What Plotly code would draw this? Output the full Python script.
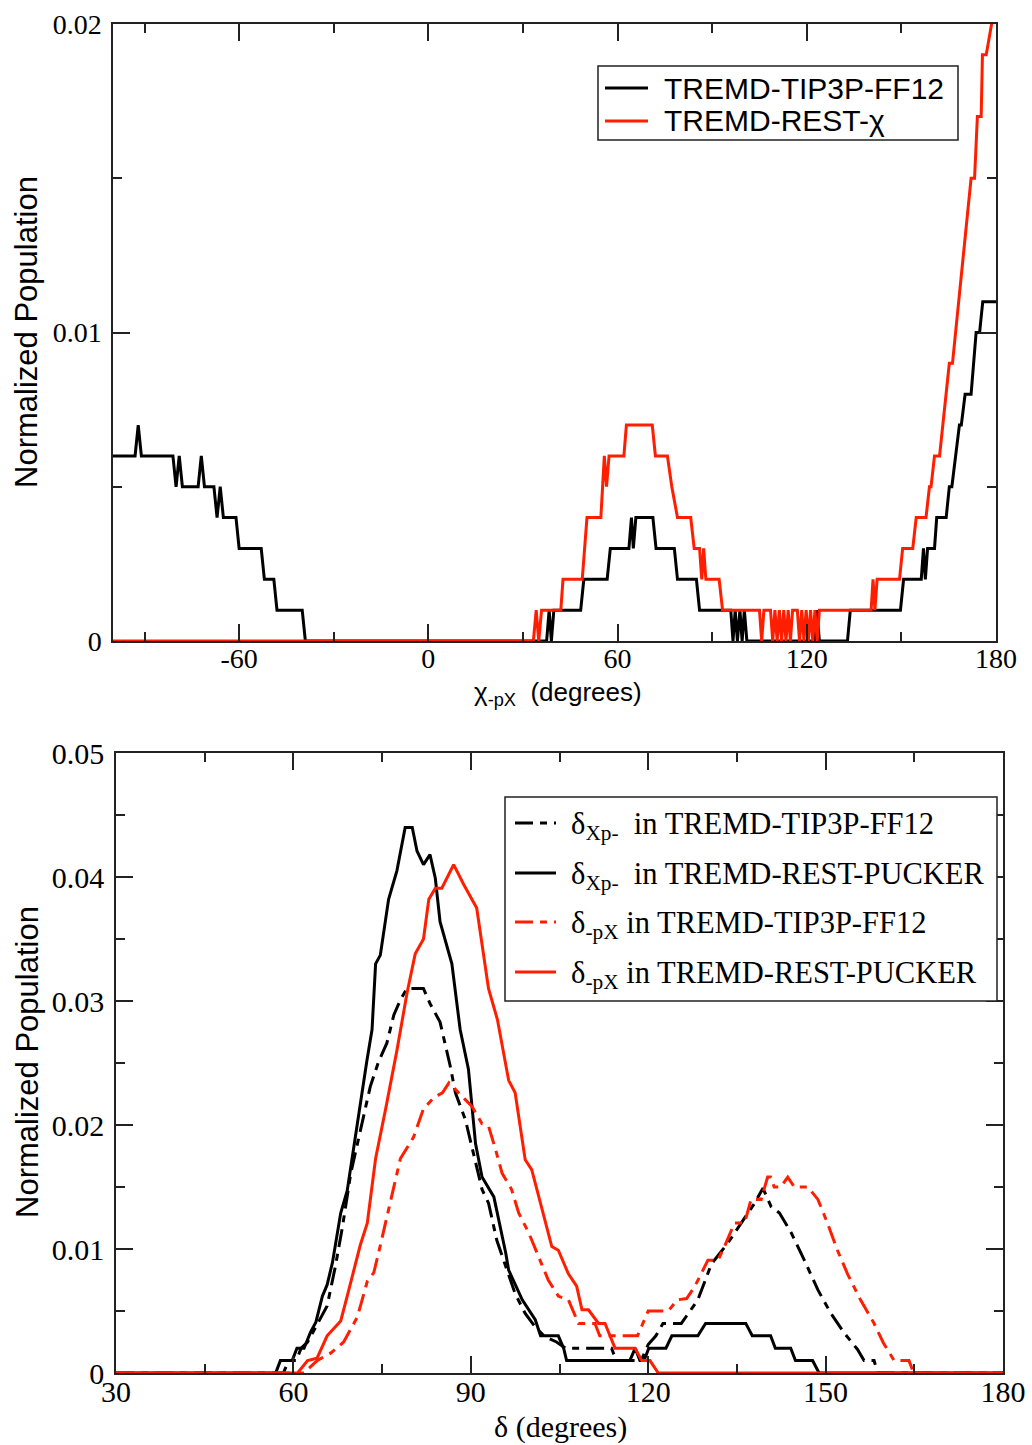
import plotly.graph_objects as go

# ---------------- Top panel data (chi -pX) ----------------
chi_tip3p_x = [-100, -93, -92, -91, -81, -80, -79, -78, -73, -72, -71, -68, -67, -66, -65, -61, -60,
               -53, -52, -49, -48, -40, -39, 37.5, 38.3, 39, 39.8, 48.3, 49.3, 56.7, 57.7, 63.6, 64.4,
               65, 65.8, 71.2, 72.2, 78, 79, 85, 86, 95.9, 96.6, 97.3, 98, 98.8, 99.5, 100.2, 101,
               122.5, 123.2, 124, 132.9, 133.8, 149.7, 150.7, 156.3, 157, 157.6, 158.3, 160.5, 161.2,
               164.2, 165.2, 166, 168.4, 169, 170.2, 172.1, 173.7, 174.8, 175.8, 180]
chi_tip3p_y = [0.006, 0.006, 0.007, 0.006, 0.006, 0.005, 0.006, 0.005, 0.005, 0.006, 0.005, 0.005, 0.004,
               0.005, 0.004, 0.004, 0.003, 0.003, 0.002, 0.002, 0.001, 0.001, 0.0, 0.0, 0.001, 0.0,
               0.001, 0.001, 0.002, 0.002, 0.003, 0.003, 0.004, 0.003, 0.004, 0.004, 0.003, 0.003,
               0.002, 0.002, 0.001, 0.001, 0.0, 0.001, 0.0, 0.001, 0.0, 0.001, 0.0, 0.0, 0.001, 0.0,
               0.0, 0.001, 0.001, 0.002, 0.002, 0.003, 0.002, 0.003, 0.003, 0.004, 0.004, 0.005,
               0.005, 0.007, 0.007, 0.008, 0.008, 0.010, 0.010, 0.011, 0.011]

chi_rest_x = [-100, 33.3, 34.2, 35, 35.9, 42, 42.7, 48.8, 50.3, 54.7, 55.8, 56.5, 57.3, 62, 62.8, 71, 72,
              75.8, 77.2, 79, 83.2, 84.3, 86, 86.7, 87.3, 88, 92.2, 93.3, 105, 105.7, 106.4, 108.5,
              109.2, 109.9, 110.6, 111.3, 112, 112.7, 113.4, 114.1, 114.8, 115.5, 117, 117.7, 118.4,
              119.1, 119.8, 120.5, 121.2, 121.9, 122.6, 123.3, 124, 140.4, 141, 141.6, 142.3, 149.4,
              150.4, 153.6, 154.7, 157.8, 158.9, 159.4, 160.5, 162.1, 165.2, 166.2, 172.1, 173.2,
              174.1, 175.3, 175.7, 176.9, 178.6, 180]
chi_rest_y = [0.0, 0.0, 0.001, 0.0, 0.001, 0.001, 0.002, 0.002, 0.004, 0.004, 0.006, 0.005, 0.006, 0.006,
              0.007, 0.007, 0.006, 0.006, 0.005, 0.004, 0.004, 0.003, 0.003, 0.002, 0.003, 0.002,
              0.002, 0.001, 0.001, 0.0, 0.001, 0.001, 0.0, 0.001, 0.0, 0.001, 0.0, 0.001, 0.0, 0.001,
              0.0, 0.001, 0.001, 0.0, 0.001, 0.0, 0.001, 0.0, 0.001, 0.0, 0.001, 0.0, 0.001, 0.001,
              0.002, 0.001, 0.002, 0.002, 0.003, 0.003, 0.004, 0.004, 0.005, 0.005, 0.006, 0.006,
              0.009, 0.009, 0.015, 0.015, 0.017, 0.017, 0.019, 0.019, 0.020, 0.0205]

# ---------------- Bottom panel data (delta) ----------------
d_xp_tip3p_x = [30, 58.3, 59.2, 60.5, 61.3, 62.4, 64.0, 65.7, 67.1, 68.3, 69.7, 71.3, 73.0, 74.4, 75.8,
                77.0, 78.1, 79.2, 82.0, 83.1, 84.8, 86.5, 87.4, 89.1, 90.8, 91.9, 93.0, 94.4, 95.9,
                97.5, 99.2, 100.9, 102.6, 104.5, 106, 113.8, 114.6, 118.8, 120, 121.3, 122.5, 125.6,
                128.4, 130.7, 133.5, 135.7, 138, 139.4, 140.8, 142.2, 144.2, 146.4, 148.7, 150.9,
                153.2, 155.4, 156.5, 158.2, 158.8, 180]
d_xp_tip3p_y = [0.0, 0.0, 0.001, 0.001, 0.002, 0.0025, 0.0039, 0.0054, 0.0086, 0.0118, 0.0161, 0.0196,
                0.0231, 0.0251, 0.0266, 0.0289, 0.0301, 0.031, 0.031, 0.0298, 0.0283, 0.0248, 0.0226,
                0.0204, 0.0169, 0.0148, 0.0137, 0.0107, 0.0086, 0.0064, 0.0048, 0.0037, 0.0029,
                0.0025, 0.002, 0.002, 0.001, 0.001, 0.0023, 0.003, 0.004, 0.004, 0.0059, 0.0088,
                0.0105, 0.0121, 0.0137, 0.0149, 0.0134, 0.0129, 0.0113, 0.0091, 0.0067, 0.0048,
                0.0032, 0.0019, 0.001, 0.001, 0.0, 0.0]

d_xp_rest_x = [30, 57.0, 57.8, 59.8, 60.6, 61.8, 62.9, 63.8, 64.9, 65.7, 66.6, 68.0, 69.1, 70.2, 71.3,
               72.4, 73.3, 73.9, 74.7, 75.6, 76.1, 77.5, 78.9, 80.1, 80.9, 82.0, 83.1, 84.0, 84.8,
               86.8, 88.2, 89.6, 90.8, 91.9, 93.9, 95.9, 96.4, 98.7, 100.9, 101.8, 104.8, 105.7, 106.2,
               116.9, 117.8, 118.6, 119.3, 120.1, 123, 124, 128.4, 129.7, 136.5, 137.6, 140.7, 141.5,
               144.1, 144.9, 147.8, 148.9, 180]
d_xp_rest_y = [0.0, 0.0, 0.001, 0.001, 0.002, 0.002, 0.0033, 0.0041, 0.0062, 0.0071, 0.0089, 0.0129,
               0.0147, 0.0182, 0.0219, 0.0251, 0.0277, 0.033, 0.0337, 0.0364, 0.0382, 0.0405, 0.044,
               0.044, 0.0421, 0.041, 0.0418, 0.0399, 0.0364, 0.033, 0.0277, 0.0245, 0.0185, 0.0158,
               0.0142, 0.0097, 0.0083, 0.0059, 0.0043, 0.003, 0.003, 0.002, 0.001, 0.001, 0.002,
               0.001, 0.001, 0.002, 0.002, 0.003, 0.003, 0.004, 0.004, 0.003, 0.003, 0.002, 0.002,
               0.001, 0.001, 0.0, 0.0]

d_px_tip3p_x = [30, 61.8, 64.0, 66.3, 68.5, 70.8, 72.5, 73.6, 74.7, 76.4, 78.1, 80.3, 82.0, 83.7, 85.2,
                86.3, 88.5, 90.2, 91.9, 93.0, 94.2, 95.3, 96.9, 98.1, 99.8, 101.5, 103.1, 104.8, 106.5,
                108.2, 111.0, 111.8, 117.2, 118.2, 120, 123.4, 124.9, 126.5, 127.9, 130.1, 131.8, 132.9,
                134.6, 136.3, 137.4, 139.1, 140.2, 140.7, 141.3, 142.4, 143.6, 144.7, 147.0, 148.7,
                150.3, 152.0, 153.7, 155.9, 158.2, 159.8, 161.6, 164.1, 164.9, 180]
d_px_tip3p_y = [0.0, 0.0, 0.001, 0.0016, 0.0025, 0.0045, 0.0074, 0.0081, 0.0103, 0.0138, 0.0173, 0.019,
                0.0213, 0.0222, 0.0226, 0.0234, 0.0223, 0.0215, 0.0201, 0.0199, 0.018, 0.0161, 0.0148,
                0.0129, 0.0113, 0.0094, 0.0075, 0.0062, 0.0059, 0.004, 0.004, 0.003, 0.003, 0.003,
                0.005, 0.005, 0.0059, 0.006, 0.007, 0.0091, 0.0091, 0.0102, 0.0121, 0.0121, 0.014,
                0.014, 0.0158, 0.0158, 0.015, 0.015, 0.0158, 0.015, 0.015, 0.014, 0.0121, 0.0099,
                0.008, 0.0059, 0.004, 0.0024, 0.001, 0.001, 0.0, 0.0]

d_px_rest_x = [30, 60.7, 62.4, 64.0, 65.7, 68.0, 69.1, 71.3, 72.5, 73.9, 75.6, 77.5, 79.2, 80.6, 82.0,
               82.9, 84.0, 85.1, 87.1, 88.8, 91.0, 93.0, 94.5, 96.4, 97.5, 99.2, 100.3, 102.0, 103.7,
               104.8, 106.5, 107.9, 108.8, 109.9, 111.6, 112.7, 114.4, 117.8, 118.9, 120.3, 121.7, 180]
d_px_rest_y = [0.0, 0.0, 0.001, 0.0012, 0.003, 0.0042, 0.0062, 0.0103, 0.0121, 0.0173, 0.0213, 0.026,
               0.0306, 0.0338, 0.035, 0.0382, 0.0391, 0.0391, 0.041, 0.0394, 0.0375, 0.031, 0.0285,
               0.0236, 0.0226, 0.0172, 0.0164, 0.0134, 0.0102, 0.0099, 0.008, 0.007, 0.0051, 0.0051,
               0.004, 0.004, 0.002, 0.002, 0.001, 0.001, 0.0, 0.0]

# ---------------- Axis tick lists ----------------
top_xticks = [-60, 0, 60, 120, 180]
top_xtext = ["-60", "0", "60", "120", "180"]
top_yticks = [0, 0.01, 0.02]
top_ytext = ["0", "0.01", "0.02"]
bot_xticks = [30, 60, 90, 120, 150, 180]
bot_xtext = ["30", "60", "90", "120", "150", "180"]
bot_yticks = [0, 0.01, 0.02, 0.03, 0.04, 0.05]
bot_ytext = ["0", "0.01", "0.02", "0.03", "0.04", "0.05"]

top_names = ["TREMD-TIP3P-FF12", "TREMD-REST-χ"]
bot_names = ["δ<sub>Xp-</sub>  in TREMD-TIP3P-FF12", "δ<sub>Xp-</sub>  in TREMD-REST-PUCKER",
             "δ<sub>-pX</sub> in TREMD-TIP3P-FF12", "δ<sub>-pX</sub> in TREMD-REST-PUCKER"]

RED = "#ff1e00"
BLACK = "#000000"
SANS = "Liberation Sans, Arial, sans-serif"
SERIF = "Liberation Serif, Times New Roman, serif"
DASH = "18px,7px,7px,7px"

W, H = 1032, 1445
fig = go.Figure()

top_series = [(chi_tip3p_x, chi_tip3p_y, BLACK, "solid"), (chi_rest_x, chi_rest_y, RED, "solid")]
bot_series = [(d_xp_tip3p_x, d_xp_tip3p_y, BLACK, DASH), (d_xp_rest_x, d_xp_rest_y, BLACK, "solid"),
              (d_px_tip3p_x, d_px_tip3p_y, RED, DASH), (d_px_rest_x, d_px_rest_y, RED, "solid")]

for (xs, ys, col, dash), name in zip(top_series, top_names):
    fig.add_trace(go.Scatter(x=xs, y=ys, mode="lines", name=name, showlegend=False,
                             line=dict(color=col, width=3, dash=dash), xaxis="x", yaxis="y"))
for (xs, ys, col, dash), name in zip(bot_series, bot_names):
    fig.add_trace(go.Scatter(x=xs, y=ys, mode="lines", name=name, showlegend=False,
                             line=dict(color=col, width=3, dash=dash), xaxis="x2", yaxis="y2"))


def px_x(p):
    return p / W


def px_y(p):
    return 1 - p / H


axis_common = dict(showline=True, linecolor="#222", linewidth=1.5, mirror="allticks",
                   ticks="inside", tickcolor="#222", tickwidth=1.5, ticklen=17,
                   showgrid=False, zeroline=False, automargin=False)
minor_common = dict(ticks="inside", ticklen=9, tickcolor="#222", tickwidth=1.5, tick0=0)

fig.update_layout(
    template="none",
    width=W, height=H, margin=dict(l=0, r=0, t=0, b=0, autoexpand=False),
    paper_bgcolor="white", plot_bgcolor="white", showlegend=False,
    xaxis=dict(domain=[px_x(113), px_x(996)], range=[-100, 180], anchor="y",
               tickvals=top_xticks, ticktext=top_xtext, ticklabelstandoff=-8,
               tickfont=dict(family=SERIF, size=28, color="black"),
               minor=dict(dtick=30, **minor_common), **axis_common),
    yaxis=dict(domain=[px_y(641), px_y(24)], range=[0, 0.02], anchor="x",
               tickvals=top_yticks, ticktext=top_ytext, ticklabelstandoff=4,
               tickfont=dict(family=SERIF, size=28, color="black"),
               minor=dict(dtick=0.005, **minor_common), **axis_common),
    xaxis2=dict(domain=[px_x(116), px_x(1003)], range=[30, 180], anchor="y2",
                tickvals=bot_xticks, ticktext=bot_xtext, ticklabelstandoff=-9,
                tickfont=dict(family=SERIF, size=30, color="black"),
                minor=dict(dtick=15, **minor_common), **axis_common),
    yaxis2=dict(domain=[px_y(1373), px_y(753)], range=[0, 0.05], anchor="x2",
                tickvals=bot_yticks, ticktext=bot_ytext, ticklabelstandoff=4,
                tickfont=dict(family=SERIF, size=30, color="black"),
                minor=dict(dtick=0.005, **minor_common), **axis_common),
)

# ----- hand-built legends (box, line samples, labels) -----
def legend_box(x0, y0, x1, y1):
    fig.add_shape(type="rect", xref="paper", yref="paper",
                  x0=px_x(x0), x1=px_x(x1), y0=px_y(y1), y1=px_y(y0),
                  line=dict(color="#222", width=1.5), fillcolor="white", layer="above")


def legend_item(xl0, xl1, yl, col, dash, text, xt, yt, font):
    fig.add_shape(type="line", xref="paper", yref="paper",
                  x0=px_x(xl0), x1=px_x(xl1), y0=px_y(yl), y1=px_y(yl),
                  line=dict(color=col, width=3, dash=dash), layer="above")
    fig.add_annotation(xref="paper", yref="paper", x=px_x(xt), y=px_y(yt), text=text,
                       showarrow=False, xanchor="left", yanchor="middle", font=font)


legend_box(598, 66, 958, 140)
top_rows = [88, 121]
for (xs, ys, col, dash), name, yr in zip(top_series, top_names, top_rows):
    legend_item(605, 648, yr, col, dash, name, 662, yr, dict(family=SANS, size=30, color="black"))

legend_box(505, 797, 997, 1001)
bot_rows = [823, 873, 922, 972]
for (xs, ys, col, dash), name, yr in zip(bot_series, bot_names, bot_rows):
    legend_item(515, 556, yr, col, dash, name, 569, yr + 3, dict(family=SERIF, size=30.5, color="black"))

annots = [
    dict(text="Normalized Population", x=px_x(27), y=px_y(332), textangle=-90,
         font=dict(family=SANS, size=31, color="black")),
    dict(text="Normalized Population", x=px_x(27), y=px_y(1062), textangle=-90,
         font=dict(family=SANS, size=31, color="black")),
    dict(text="χ<sub>-pX</sub>  (degrees)", x=px_x(558), y=px_y(693),
         font=dict(family=SANS, size=26, color="black")),
    dict(text="δ (degrees)", x=px_x(560), y=px_y(1427),
         font=dict(family=SERIF, size=30, color="black")),
]
for a in annots:
    fig.add_annotation(xref="paper", yref="paper", showarrow=False, xanchor="center", yanchor="middle", **a)

fig.write_html("out.html")
